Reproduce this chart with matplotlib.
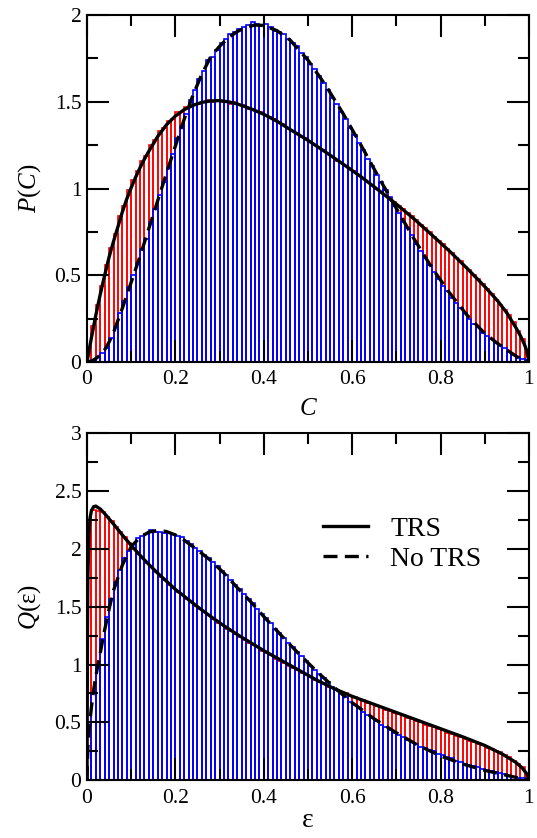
import numpy as np
import matplotlib
matplotlib.use("Agg")
import matplotlib.pyplot as plt
from matplotlib.ticker import MultipleLocator, FuncFormatter

plt.rcParams['font.family'] = ['Liberation Serif', 'DejaVu Serif']
plt.rcParams['mathtext.fontset'] = 'custom'
plt.rcParams['mathtext.it'] = 'Liberation Serif:italic'
plt.rcParams['mathtext.rm'] = 'Liberation Serif'

# histogram bins (width 0.01)
bin_edges = np.linspace(0, 1, 101)

# P(C) histograms
p_trs_hist = [
    0.08, 0.21, 0.33, 0.44, 0.56, 0.66, 0.74, 0.84, 0.90, 0.99,
    1.05, 1.10, 1.16, 1.19, 1.25, 1.28, 1.33, 1.35, 1.39, 1.40,
    1.44, 1.44, 1.47, 1.47, 1.49, 1.49, 1.50, 1.51, 1.50, 1.51,
    1.50, 1.50, 1.49, 1.50, 1.48, 1.48, 1.46, 1.46, 1.44, 1.44,
    1.42, 1.41, 1.40, 1.38, 1.37, 1.35, 1.33, 1.32, 1.30, 1.29,
    1.27, 1.25, 1.24, 1.22, 1.20, 1.19, 1.16, 1.15, 1.13, 1.12,
    1.10, 1.08, 1.06, 1.04, 1.02, 1.00, 0.98, 0.96, 0.94, 0.92,
    0.90, 0.88, 0.86, 0.84, 0.82, 0.79, 0.77, 0.75, 0.72, 0.70,
    0.68, 0.65, 0.63, 0.60, 0.58, 0.55, 0.53, 0.50, 0.48, 0.45,
    0.42, 0.39, 0.36, 0.33, 0.30, 0.27, 0.23, 0.18, 0.13, 0.07,
]
p_notrs_hist = [
    0.00, 0.01, 0.03, 0.05, 0.08, 0.14, 0.20, 0.28, 0.35, 0.43,
    0.50, 0.57, 0.65, 0.71, 0.81, 0.88, 0.96, 1.04, 1.12, 1.20,
    1.29, 1.36, 1.43, 1.51, 1.57, 1.63, 1.68, 1.74, 1.76, 1.80,
    1.84, 1.86, 1.89, 1.90, 1.92, 1.93, 1.94, 1.96, 1.95, 1.94,
    1.95, 1.93, 1.91, 1.90, 1.89, 1.86, 1.84, 1.82, 1.78, 1.76,
    1.72, 1.69, 1.65, 1.61, 1.57, 1.52, 1.49, 1.44, 1.40, 1.35,
    1.31, 1.26, 1.22, 1.17, 1.13, 1.08, 1.04, 0.99, 0.95, 0.90,
    0.86, 0.81, 0.77, 0.73, 0.68, 0.64, 0.60, 0.56, 0.52, 0.48,
    0.44, 0.41, 0.37, 0.34, 0.31, 0.28, 0.25, 0.22, 0.20, 0.17,
    0.15, 0.13, 0.11, 0.10, 0.08, 0.06, 0.04, 0.03, 0.02, 0.01,
]

# Q(eps) histograms
q_trs_hist = [
    2.22, 2.34, 2.33, 2.32, 2.28, 2.24, 2.19, 2.15, 2.10, 2.05,
    2.00, 1.96, 1.93, 1.88, 1.84, 1.80, 1.76, 1.73, 1.69, 1.66,
    1.63, 1.60, 1.57, 1.54, 1.51, 1.48, 1.45, 1.43, 1.39, 1.36,
    1.34, 1.31, 1.29, 1.26, 1.24, 1.21, 1.19, 1.17, 1.15, 1.12,
    1.10, 1.08, 1.05, 1.03, 1.01, 0.99, 0.97, 0.95, 0.93, 0.91,
    0.89, 0.87, 0.85, 0.83, 0.81, 0.80, 0.78, 0.76, 0.75, 0.73,
    0.72, 0.70, 0.69, 0.67, 0.66, 0.64, 0.63, 0.61, 0.60, 0.58,
    0.57, 0.56, 0.54, 0.53, 0.51, 0.50, 0.48, 0.47, 0.46, 0.44,
    0.43, 0.41, 0.40, 0.38, 0.37, 0.36, 0.34, 0.33, 0.31, 0.30,
    0.28, 0.27, 0.25, 0.24, 0.22, 0.20, 0.17, 0.14, 0.11, 0.05,
]
q_notrs_hist = [
    0.25, 0.75, 1.00, 1.22, 1.41, 1.57, 1.71, 1.82, 1.92, 1.98,
    2.04, 2.09, 2.11, 2.13, 2.16, 2.15, 2.15, 2.14, 2.14, 2.13,
    2.11, 2.10, 2.07, 2.04, 2.01, 1.98, 1.95, 1.92, 1.89, 1.85,
    1.81, 1.77, 1.73, 1.69, 1.65, 1.61, 1.57, 1.53, 1.48, 1.44,
    1.40, 1.36, 1.31, 1.27, 1.23, 1.19, 1.15, 1.11, 1.07, 1.03,
    0.99, 0.95, 0.92, 0.88, 0.85, 0.81, 0.78, 0.75, 0.72, 0.68,
    0.65, 0.62, 0.59, 0.56, 0.54, 0.51, 0.48, 0.46, 0.43, 0.41,
    0.39, 0.37, 0.35, 0.33, 0.31, 0.29, 0.28, 0.26, 0.25, 0.23,
    0.22, 0.20, 0.19, 0.17, 0.16, 0.14, 0.13, 0.12, 0.11, 0.10,
    0.09, 0.08, 0.07, 0.06, 0.05, 0.04, 0.03, 0.02, 0.015, 0.005,
]

# theory curves, P(C)
c_grid = [0, 0.01, 0.02, 0.03, 0.04, 0.05, 0.06, 0.07, 0.08, 0.09, 0.10,
          0.11, 0.12, 0.13, 0.14, 0.16, 0.18, 0.20, 0.22, 0.24, 0.26, 0.28,
          0.30, 0.32, 0.34, 0.36, 0.38, 0.40, 0.43, 0.46, 0.50, 0.54, 0.58,
          0.62, 0.66, 0.70, 0.74, 0.78, 0.82, 0.86, 0.90, 0.93, 0.95, 0.97,
          0.98, 0.99, 0.995, 1.0]
p_trs_curve = [0, 0.14, 0.27, 0.39, 0.50, 0.605, 0.695, 0.78, 0.865, 0.94, 1.005,
               1.065, 1.12, 1.17, 1.215, 1.30, 1.368, 1.418, 1.455, 1.48, 1.497, 1.505,
               1.507, 1.50, 1.488, 1.47, 1.45, 1.428, 1.388, 1.34, 1.278, 1.21, 1.14,
               1.068, 0.99, 0.91, 0.825, 0.733, 0.64, 0.54, 0.435, 0.35, 0.283, 0.20,
               0.155, 0.10, 0.065, 0]
p_notrs_curve = [0, 0.005, 0.02, 0.04, 0.07, 0.115, 0.17, 0.24, 0.31, 0.385, 0.46,
                 0.535, 0.61, 0.69, 0.77, 0.93, 1.09, 1.245, 1.40, 1.54, 1.66, 1.76,
                 1.82, 1.87, 1.905, 1.93, 1.943, 1.94, 1.91, 1.855, 1.74, 1.595, 1.43,
                 1.25, 1.065, 0.885, 0.71, 0.545, 0.40, 0.27, 0.165, 0.105, 0.07, 0.035,
                 0.02, 0.008, 0.003, 0]

# theory curves, Q(eps)
e_grid = [0, 0.001, 0.002, 0.004, 0.007, 0.01, 0.015, 0.02, 0.03, 0.04, 0.05,
          0.06, 0.08, 0.10, 0.12, 0.14, 0.16, 0.18, 0.20, 0.22, 0.25, 0.28,
          0.31, 0.34, 0.37, 0.40, 0.44, 0.48, 0.52, 0.56, 0.60, 0.65, 0.70,
          0.75, 0.80, 0.85, 0.90, 0.94, 0.97, 0.985, 0.995, 1.0]
q_trs_curve = [0, 1.2, 1.75, 2.1, 2.27, 2.33, 2.365, 2.37, 2.345, 2.305, 2.26,
               2.215, 2.12, 2.03, 1.945, 1.865, 1.79, 1.72, 1.65, 1.59, 1.50, 1.415,
               1.335, 1.26, 1.19, 1.12, 1.035, 0.95, 0.865, 0.79, 0.725, 0.655, 0.585,
               0.515, 0.445, 0.375, 0.30, 0.225, 0.155, 0.105, 0.055, 0]
q_notrs_curve = [0, 0.15, 0.28, 0.40, 0.52, 0.63, 0.78, 0.90, 1.10, 1.30, 1.48,
                 1.64, 1.86, 2.02, 2.10, 2.145, 2.16, 2.15, 2.12, 2.075, 1.99, 1.90,
                 1.79, 1.665, 1.545, 1.415, 1.25, 1.09, 0.94, 0.80, 0.67, 0.53, 0.41,
                 0.30, 0.21, 0.14, 0.085, 0.05, 0.025, 0.012, 0.004, 0]

fig = plt.figure(figsize=(5.37, 8.38), dpi=100)
ax1 = fig.add_axes([0.162, 0.568, 0.823, 0.414])
ax2 = fig.add_axes([0.162, 0.069, 0.823, 0.414])

fmt = FuncFormatter(lambda v, p: f"{v:g}")


def style(ax, ymax):
    ax.set_xlim(0, 1)
    ax.set_ylim(0, ymax)
    ax.xaxis.set_major_locator(MultipleLocator(0.2))
    ax.xaxis.set_minor_locator(MultipleLocator(0.1))
    ax.yaxis.set_major_locator(MultipleLocator(0.5))
    ax.yaxis.set_minor_locator(MultipleLocator(0.25))
    ax.xaxis.set_major_formatter(fmt)
    ax.yaxis.set_major_formatter(fmt)
    ax.tick_params(which='both', direction='in', top=True, right=True,
                   width=1.5, labelsize=15.5)
    ax.tick_params(which='major', length=16)
    ax.tick_params(which='minor', length=8)
    ax.tick_params(axis='y', pad=4)
    ax.tick_params(axis='x', pad=6)
    for s in ax.spines.values():
        s.set_linewidth(1.5)


def hist(ax, vals, color):
    ax.bar(bin_edges[:-1], vals, width=0.01, align='edge', fill=False,
           edgecolor=color, linewidth=1.2)


# top panel
hist(ax1, p_trs_hist, 'red')
hist(ax1, p_notrs_hist, 'blue')
ax1.plot(c_grid, p_trs_curve, color='black', lw=2.4)
ax1.plot(c_grid, p_notrs_curve, color='black', lw=2.4, ls=(0, (4.2, 2.2)))
style(ax1, 2)
ax1.set_xlabel('$C$', fontsize=18, labelpad=6)
ax1.set_ylabel('$P(C)$', fontsize=18, labelpad=8)

# bottom panel
hist(ax2, q_trs_hist, 'red')
hist(ax2, q_notrs_hist, 'blue')
l1, = ax2.plot(e_grid, q_trs_curve, color='black', lw=2.4)
l2, = ax2.plot(e_grid, q_notrs_curve, color='black', lw=2.4, ls=(0, (4.2, 2.2)))
style(ax2, 3)
ax2.set_xlabel('ε', fontsize=20, labelpad=0)
ax2.set_ylabel('$Q$(ε)', fontsize=18, labelpad=8)
ax2.legend([l1, l2], ['TRS', 'No TRS'], frameon=False, fontsize=20,
           loc='center left', bbox_to_anchor=(0.535, 0.68), handlelength=1.6,
           handletextpad=0.8, labelspacing=0.15, borderpad=0, borderaxespad=0)

fig.savefig('out.png', dpi=100)
